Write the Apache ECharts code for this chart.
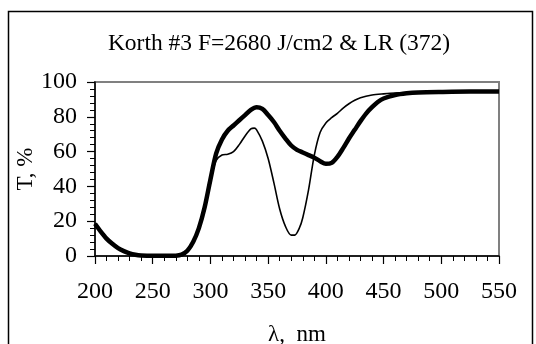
<!DOCTYPE html>
<html>
<head>
<meta charset="utf-8">
<script src="https://cdn.jsdelivr.net/npm/echarts@6/dist/echarts.min.js"></script>
<style>
  html, body { margin: 0; padding: 0; background: #fff; }
  #chart { width: 536px; height: 344px; }
</style>
</head>
<body>
<div id="chart"></div>
<script>
// wavelength (nm) and transmission (%)
const thickNm = [200, 205, 210, 215, 220, 225, 230, 235, 240, 250, 260, 270, 275, 280, 285, 290, 295, 300, 305, 310, 315, 320, 325, 330, 335, 340, 345, 350, 355, 360, 365, 370, 375, 380, 385, 390, 395, 400, 405, 410, 415, 420, 425, 430, 435, 440, 445, 450, 460, 470, 480, 500, 525, 550];
const thickT = [18.5, 14, 10, 7, 4.5, 2.8, 1.5, 0.7, 0.3, 0.1, 0.1, 0.2, 0.8, 3, 8, 16, 28, 44, 59, 67, 72, 75, 78, 81, 84, 85.5, 84.5, 81, 77, 72, 67.5, 63.5, 61, 59.5, 58, 56.5, 54.5, 53, 53.5, 57, 62, 67.5, 72.5, 77.5, 82, 85.5, 88.5, 90.5, 92.5, 93.5, 94, 94.3, 94.5, 94.5];

const thinNm = [200, 205, 210, 215, 220, 225, 230, 235, 240, 250, 260, 270, 275, 280, 285, 290, 295, 300, 305, 310, 315, 320, 325, 330, 335, 338, 340, 345, 350, 355, 360, 365, 370, 373, 377, 380, 385, 390, 395, 400, 405, 410, 415, 420, 425, 430, 440, 450, 460, 480, 500, 550];
const thinT = [18.5, 14, 10, 7, 4.5, 2.8, 1.5, 0.7, 0.3, 0.1, 0.1, 0.2, 0.8, 3, 8, 16, 28, 44, 55, 58, 58.5, 60, 64, 69, 73, 73.5, 72.5, 66, 56, 42, 27, 17, 12, 12, 16, 22, 38, 58, 71, 76.5, 79.5, 82, 85, 87.5, 89.5, 91, 92.5, 93.2, 93.7, 94, 94.3, 94.5];

const xTicks = [200, 250, 300, 350, 400, 450, 500, 550];
const yTicks = [0, 20, 40, 60, 80, 100];

const pairs = (xs, ys) => xs.map((x, i) => [x, ys[i]]);
const serif = 'Liberation Serif';

const chart = echarts.init(document.getElementById('chart'));
chart.setOption({
  animation: false,
  title: {
    text: 'Korth #3 F=2680 J/cm2 & LR (372)',
    left: 274,
    top: 27,
    textAlign: 'center',
    textStyle: { fontFamily: serif, fontSize: 23.5, fontWeight: 'normal', color: '#000' }
  },
  graphic: [{
    type: 'rect',
    shape: { x: 8.5, y: 11.5, width: 524, height: 340 },
    style: { fill: 'none', stroke: '#000', lineWidth: 1.5 },
    silent: true
  }],
  grid: {
    left: 95, right: 37, top: 82, bottom: 88,
    containLabel: false, outerBoundsMode: 'none',
    show: true, borderColor: '#808080', borderWidth: 2, backgroundColor: '#fff'
  },
  xAxis: {
    type: 'value',
    min: xTicks[0], max: xTicks[xTicks.length - 1], interval: 50,
    name: 'λ,  nm',
    nameLocation: 'middle',
    nameGap: 67,
    nameMoveOverlap: false,
    nameTextStyle: { fontFamily: serif, fontSize: 23, color: '#000' },
    axisLine: { lineStyle: { color: '#000', width: 1.5 } },
    axisTick: { length: 8, lineStyle: { color: '#000', width: 1.2 } },
    minorTick: { show: true, splitNumber: 5, length: 5, lineStyle: { color: '#000', width: 1 } },
    splitLine: { show: false },
    axisLabel: { fontFamily: serif, fontSize: 24, color: '#000', margin: 24 }
  },
  yAxis: {
    type: 'value',
    min: yTicks[0], max: yTicks[yTicks.length - 1], interval: 20,
    name: 'T, %',
    nameLocation: 'middle',
    nameGap: 58,
    nameMoveOverlap: false,
    nameTextStyle: { fontFamily: serif, fontSize: 23, color: '#000' },
    axisLine: { lineStyle: { color: '#000', width: 1.5 } },
    axisTick: { length: 8, lineStyle: { color: '#000', width: 1.2 } },
    minorTick: { show: true, splitNumber: 5, length: 5, lineStyle: { color: '#000', width: 1 } },
    splitLine: { show: false },
    axisLabel: { fontFamily: serif, fontSize: 24, color: '#000', margin: 18 }
  },
  series: [
    {
      name: 'F=2680',
      type: 'line',
      data: pairs(thickNm, thickT),
      smooth: 0.3,
      showSymbol: false,
      lineStyle: { color: '#000', width: 4.5 }
    },
    {
      name: 'LR',
      type: 'line',
      data: pairs(thinNm, thinT),
      smooth: 0.3,
      showSymbol: false,
      lineStyle: { color: '#000', width: 1.6 }
    }
  ]
});
</script>
</body>
</html>
